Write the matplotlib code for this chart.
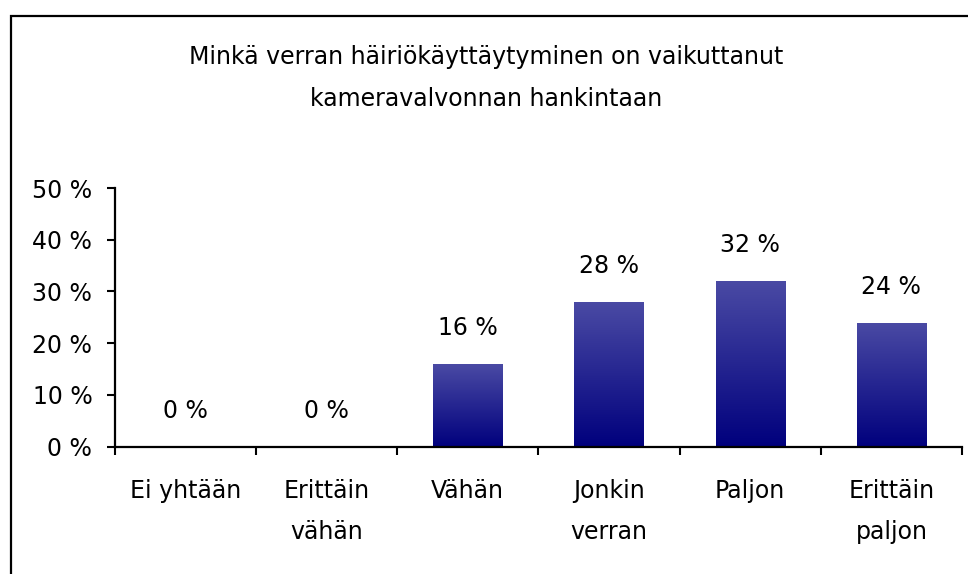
import matplotlib
matplotlib.use("Agg")
import matplotlib.pyplot as plt
import numpy as np
from matplotlib.patches import Rectangle
from matplotlib.colors import LinearSegmentedColormap

categories = ["Ei yhtään", "Erittäin\nvähän", "Vähän", "Jonkin\nverran", "Paljon", "Erittäin\npaljon"]
values = [0, 0, 16, 28, 32, 24]
yticks = [0, 10, 20, 30, 40, 50]
title = "Minkä verran häiriökäyttäytyminen on vaikuttanut\nkameravalvonnan hankintaan"

plt.rcParams['font.family'] = ['DejaVu Sans']
FS = 17

W, H = 968, 574
fig = plt.figure(figsize=(W/100, H/100), dpi=100)
fig.patch.set_facecolor('white')

# outer border
fig.patches.append(Rectangle((10.5/W, -0.2), 2.0, 1.2 - 16.5/H, transform=fig.transFigure,
                             fill=False, edgecolor='black', linewidth=1.6, figure=fig))

ax = fig.add_axes([114.5/W, 1-446.7/H, (962-114.5)/W, (446.7-188)/H])
x = np.arange(len(values)) + 0.5
bars = ax.bar(x, values, width=0.49, facecolor='none', edgecolor='none', zorder=2)

cmap = LinearSegmentedColormap.from_list('g', [(0/255, 0/255, 125/255), (74/255, 74/255, 164/255)])
grad = np.linspace(0, 1, 256).reshape(-1, 1)
for b, v in zip(bars, values):
    if v <= 0:
        continue
    x0, w = b.get_x(), b.get_width()
    im = ax.imshow(grad, cmap=cmap, aspect='auto', origin='lower',
                   extent=(x0, x0 + w, 0, v), zorder=2)
    im.set_clip_path(b)

for xi, v in zip(x, values):
    ax.annotate(f"{v} %", (xi, v), xytext=(0, 36), textcoords='offset pixels',
                ha='center', va='center', fontsize=FS, color='black')

ax.set_xlim(0, 6)
ax.set_ylim(0, 50)
ax.set_yticks(yticks)
ax.set_yticklabels([f"{t} %" for t in yticks], fontsize=FS)
ax.set_xticks(np.arange(0, 7))
ax.set_xticklabels([])
ax.set_xticks(x, minor=True)
ax.set_xticklabels(categories, minor=True, fontsize=FS, linespacing=1.9)
ax.tick_params(axis='x', which='major', direction='out', length=5.5, width=1.5, color='black')
ax.tick_params(axis='x', which='minor', length=0, pad=23)
ax.tick_params(axis='y', direction='out', length=6, width=1.5, pad=10)
for s in ['top', 'right']:
    ax.spines[s].set_visible(False)
for s in ['left', 'bottom']:
    ax.spines[s].set_linewidth(1.6)
ax.set_facecolor('none')

fig.text(486/W, 1 - 78/H, title, ha='center', va='center', fontsize=FS, linespacing=1.95)

fig.savefig("out.png", dpi=100, facecolor='white')
